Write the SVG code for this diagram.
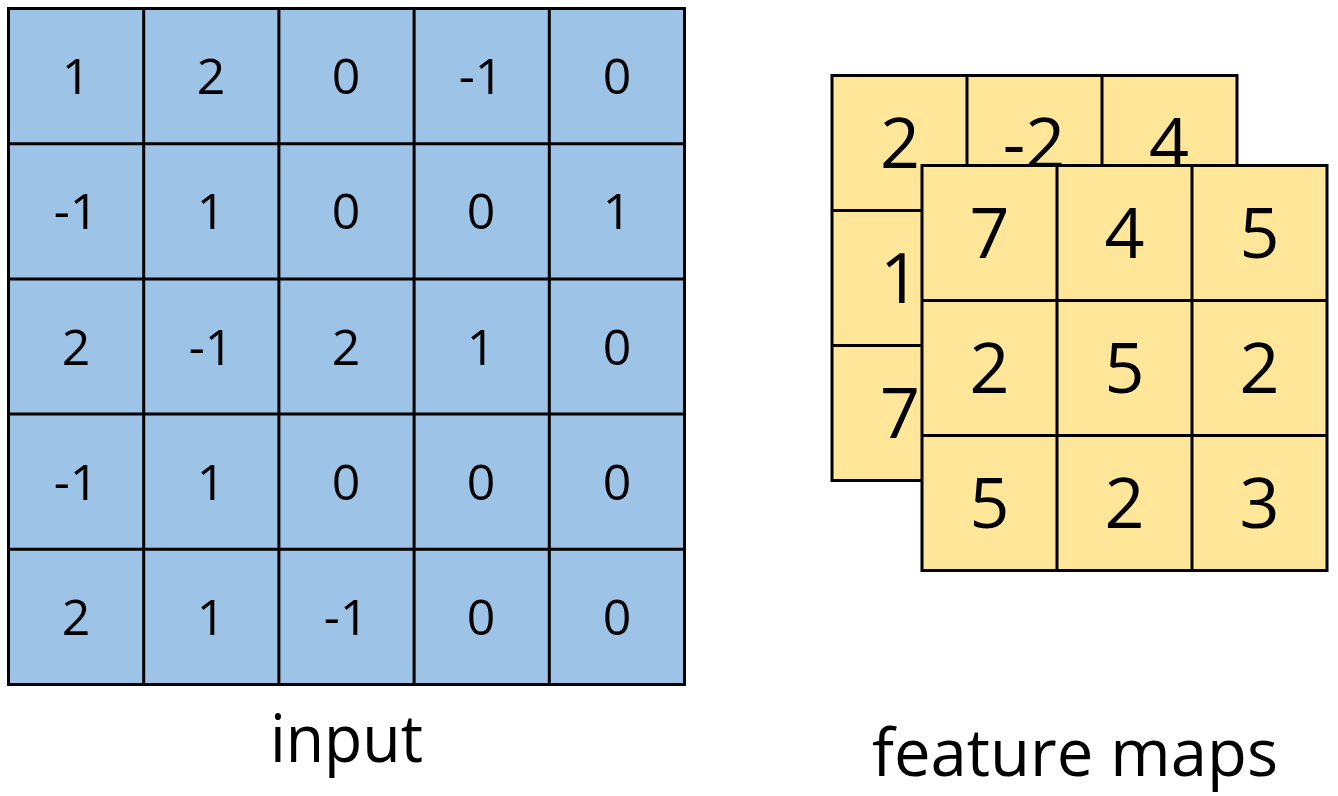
<svg xmlns="http://www.w3.org/2000/svg" width="1338" height="796" viewBox="0 0 1338 796">
<style>
.blue{fill:#9DC3E6;stroke:#000;stroke-width:3}
.yel{fill:#FFE699;stroke:#000;stroke-width:3}
.ln{stroke:#000;stroke-width:3;fill:none}
text{font-family:"Open Sans","Liberation Sans",sans-serif;fill:#000;text-anchor:middle}
.s{font-size:50px}
.b{font-size:70px}
.lbl{font-size:66px}
</style>
<rect width="1338" height="796" fill="#fff"/>
<g id="input-grid">
<rect class="blue" x="8.5" y="8.5" width="676" height="676"/>
<path class="ln" d="M143.7 8.5V684.5M278.9 8.5V684.5M414.1 8.5V684.5M549.3 8.5V684.5M8.5 143.7H684.5M8.5 278.9H684.5M8.5 414.1H684.5M8.5 549.3H684.5"/>
<g class="s">
<text x="76" y="94">1</text><text x="211" y="94">2</text><text x="346" y="94">0</text><text x="481" y="94">-1</text><text x="617" y="94">0</text>
<text x="76" y="229">-1</text><text x="211" y="229">1</text><text x="346" y="229">0</text><text x="481" y="229">0</text><text x="617" y="229">1</text>
<text x="76" y="364.5">2</text><text x="211" y="364.5">-1</text><text x="346" y="364.5">2</text><text x="481" y="364.5">1</text><text x="617" y="364.5">0</text>
<text x="76" y="500">-1</text><text x="211" y="500">1</text><text x="346" y="500">0</text><text x="481" y="500">0</text><text x="617" y="500">0</text>
<text x="76" y="635">2</text><text x="211" y="635">1</text><text x="346" y="635">-1</text><text x="481" y="635">0</text><text x="617" y="635">0</text>
</g>
</g>
<g id="feature-map-back">
<rect class="yel" x="832" y="75.5" width="405" height="405"/>
<path class="ln" d="M967 75.5V480.5M1102 75.5V480.5M832 210.5H1237M832 345.5H1237"/>
<g class="b">
<text x="900" y="168">2</text><text x="1034" y="168">-2</text><text x="1169" y="168">4</text>
<text x="900" y="303">1</text>
<text x="900" y="438">7</text>
</g>
</g>
<g id="feature-map-front">
<rect class="yel" x="922" y="165.5" width="405" height="405"/>
<path class="ln" d="M1057 165.5V570.5M1192 165.5V570.5M922 300.5H1327M922 435.5H1327"/>
<g class="b">
<text x="989.5" y="258">7</text><text x="1124.5" y="258">4</text><text x="1259.5" y="258">5</text>
<text x="989.5" y="393">2</text><text x="1124.5" y="393">5</text><text x="1259.5" y="393">2</text>
<text x="989.5" y="528">5</text><text x="1124.5" y="528">2</text><text x="1259.5" y="528">3</text>
</g>
</g>
<g id="labels">
<text class="lbl" x="346.5" y="762" textLength="153" lengthAdjust="spacingAndGlyphs">input</text>
<text class="lbl" x="1075" y="776" textLength="406" lengthAdjust="spacingAndGlyphs">feature maps</text>
</g>
</svg>
